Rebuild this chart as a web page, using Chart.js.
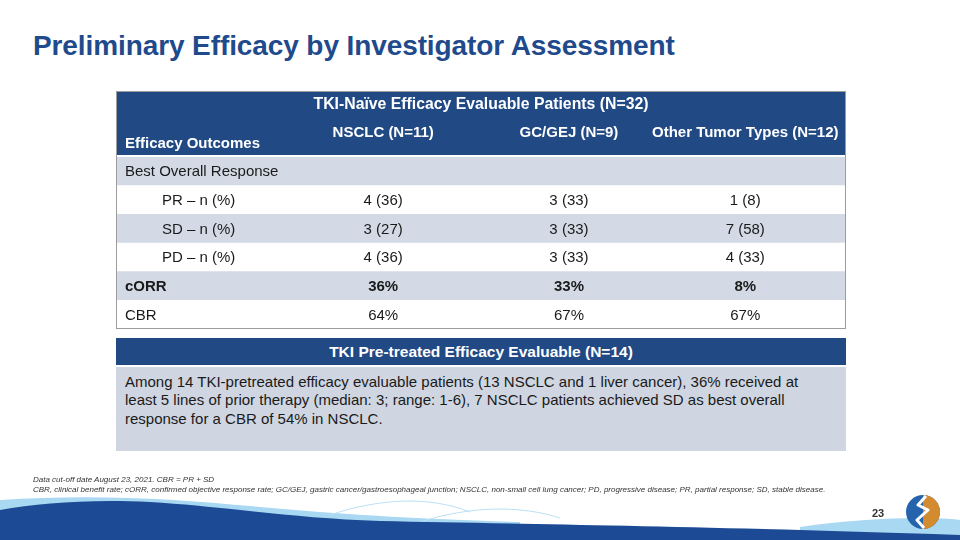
<!DOCTYPE html>
<html>
<head>
<meta charset="utf-8">
<script src="https://cdn.jsdelivr.net/npm/chart.js@4.4.1/dist/chart.umd.min.js"></script>
<style>
  body { margin: 0; width: 960px; height: 540px; overflow: hidden; background: #fff; position: relative;
         font-family: "Liberation Sans", Arial, sans-serif; }
  #title { position: absolute; left: 33px; top: 30px; font-size: 28px; font-weight: bold; color: #1f4a8c; white-space: nowrap; letter-spacing: -0.1px; }
  #tableWrap { position: absolute; left: 116px; top: 91px; width: 730px; height: 238px; }
  #pre { position: absolute; left: 116px; top: 338px; width: 730px; }
  #preHead { background: #214a85; color: #fff; font-weight: bold; font-size: 15.5px; text-align: center; height: 27px; line-height: 27px; }
  #preBody { background: #cfd6e1; height: 86px; border-top: 2px solid #fff; font-size: 15px; line-height: 18.3px; color: #1a1a1a; padding: 6px 0 0 9px; box-sizing: border-box; }
  #preBody div { width: 695px; }
  #foot { position: absolute; left: 33px; top: 475px; font-size: 8px; font-style: italic; color: #333; line-height: 10px; white-space: nowrap; }
  #page { position: absolute; left: 872px; top: 507px; font-size: 11px; font-weight: bold; color: #333; }
  svg { position: absolute; left: 0; top: 0; }
</style>
</head>
<body>
<div id="title">Preliminary Efficacy by Investigator Assessment</div>
<div id="tableWrap"><canvas id="effTable"></canvas></div>
<div id="pre">
  <div id="preHead">TKI Pre-treated Efficacy Evaluable (N=14)</div>
  <div id="preBody"><div>Among 14 TKI-pretreated efficacy evaluable patients (13 NSCLC and 1 liver cancer), 36% received at least 5 lines of prior therapy (median: 3; range: 1-6), 7 NSCLC patients achieved SD as best overall response for a CBR of 54% in NSCLC.</div></div>
</div>
<svg width="960" height="540" viewBox="0 0 960 540">
  <path d="M0,500 C90,494 170,498 260,507 C350,515 420,519 520,522 L520,540 L0,540 Z" fill="#a9d8f2"/>
  <path d="M330,515 C380,498 430,496 470,512" fill="none" stroke="#b9e0f5" stroke-width="1"/>
  <path d="M420,522 C470,506 520,505 560,518" fill="none" stroke="#b9e0f5" stroke-width="1"/>
  <path d="M800,527 C860,518 930,516 960,520 L960,540 L800,540 Z" fill="#a9d8f2"/>
  <path d="M0,510 C40,503 90,499 150,502 C230,507 290,518 380,521 C520,524 700,526 960,535 L960,540 L0,540 Z" fill="#1d4a94"/>
  <circle cx="923" cy="512" r="17" fill="#2563ad"/>
  <path d="M923,495 A17,17 0 0 1 923,529 Z" fill="#d38b30"/>
  <path d="M926,496 L918,505 L928,510 L917,520 L924,528" fill="none" stroke="#fff" stroke-width="3" stroke-linejoin="round"/>
</svg>
<div id="foot">Data cut-off date August 23, 2021. CBR = PR + SD<br>CBR, clinical benefit rate; cORR, confirmed objective response rate; GC/GEJ, gastric cancer/gastroesophageal junction; NSCLC, non-small cell lung cancer; PD, progressive disease; PR, partial response; SD, stable disease.</div>
<div id="page">23</div>
<script>
// table content
const groups = ['NSCLC (N=11)', 'GC/GEJ (N=9)', 'Other Tumor Types (N=12)'];
const outcomes = ['Best Overall Response', 'PR – n (%)', 'SD – n (%)', 'PD – n (%)', 'cORR', 'CBR'];
const prCount = [4, 3, 1];
const prPct = [36, 33, 8];
const sdCount = [3, 3, 7];
const sdPct = [27, 33, 58];
const pdCount = [4, 3, 4];
const pdPct = [36, 33, 33];
const corrPct = [36, 33, 8];
const cbrPct = [64, 67, 67];

const darkBlue = '#214a85';
const lightRow = '#d3dae6';
const colCenters = [0.366, 0.6205, 0.862]; // where each group column sits on the x scale
const indented = [false, true, true, true, false, false];
const boldRow = [false, false, false, false, true, false];

function cellText(row, j) {
  if (row === 1) return prCount[j] + ' (' + prPct[j] + ')';
  if (row === 2) return sdCount[j] + ' (' + sdPct[j] + ')';
  if (row === 3) return pdCount[j] + ' (' + pdPct[j] + ')';
  if (row === 4) return corrPct[j] + '%';
  if (row === 5) return cbrPct[j] + '%';
  return '';
}

const tablePlugin = {
  id: 'tableText',
  beforeDatasetsDraw(chart) {
    const ctx = chart.ctx, a = chart.chartArea;
    ctx.save();
    ctx.fillStyle = darkBlue;
    ctx.fillRect(a.left, 0, a.right - a.left, a.top);
    ctx.restore();
  },
  afterDatasetsDraw(chart) {
    const ctx = chart.ctx, a = chart.chartArea;
    const xs = chart.scales.x, ys = chart.scales.y;
    ctx.save();
    // white rule under header
    ctx.fillStyle = '#fff';
    ctx.fillRect(a.left, a.top - 2, a.right - a.left, 2);
    // header text
    ctx.fillStyle = '#fff';
    ctx.textBaseline = 'middle';
    ctx.textAlign = 'center';
    ctx.font = 'bold 15.8px "Liberation Sans", Arial, sans-serif';
    ctx.fillText('TKI-Naïve Efficacy Evaluable Patients (N=32)', (a.left + a.right) / 2, 14);
    ctx.font = 'bold 15px "Liberation Sans", Arial, sans-serif';
    groups.forEach((g, j) => ctx.fillText(g, xs.getPixelForValue(colCenters[j]), 42));
    ctx.textAlign = 'left';
    ctx.fillText('Efficacy Outcomes', a.left + 9, 53);
    // body text
    ctx.fillStyle = '#1a1a1a';
    outcomes.forEach((name, i) => {
      const y = ys.getPixelForValue(i) + 1;
      ctx.font = (boldRow[i] ? 'bold ' : '') + '15px "Liberation Sans", Arial, sans-serif';
      ctx.textAlign = 'left';
      ctx.fillText(name, a.left + (indented[i] ? 46 : 9), y);
      ctx.textAlign = 'center';
      groups.forEach((g, j) => ctx.fillText(cellText(i, j), xs.getPixelForValue(colCenters[j]), y));
    });
    // outer border
    ctx.strokeStyle = '#9c9c9c';
    ctx.lineWidth = 1;
    ctx.strokeRect(a.left + 0.5, 0.5, a.right - a.left - 1, a.bottom - 1);
    ctx.restore();
  }
};

new Chart(document.getElementById('effTable'), {
  type: 'bar',
  data: {
    labels: outcomes,
    datasets: [{
      data: outcomes.map(() => [0, 1]),
      backgroundColor: outcomes.map((_, i) => i % 2 === 0 ? lightRow : '#ffffff'),
      borderWidth: 0,
      borderSkipped: false,
      barPercentage: 1,
      categoryPercentage: 1
    }]
  },
  options: {
    indexAxis: 'y',
    responsive: true,
    maintainAspectRatio: false,
    animation: false,
    layout: { padding: { top: 66 } },
    scales: {
      x: { display: false, min: 0, max: 1 },
      y: { display: false }
    },
    plugins: { legend: { display: false }, tooltip: { enabled: false } }
  },
  plugins: [tablePlugin]
});
</script>
</body>
</html>
